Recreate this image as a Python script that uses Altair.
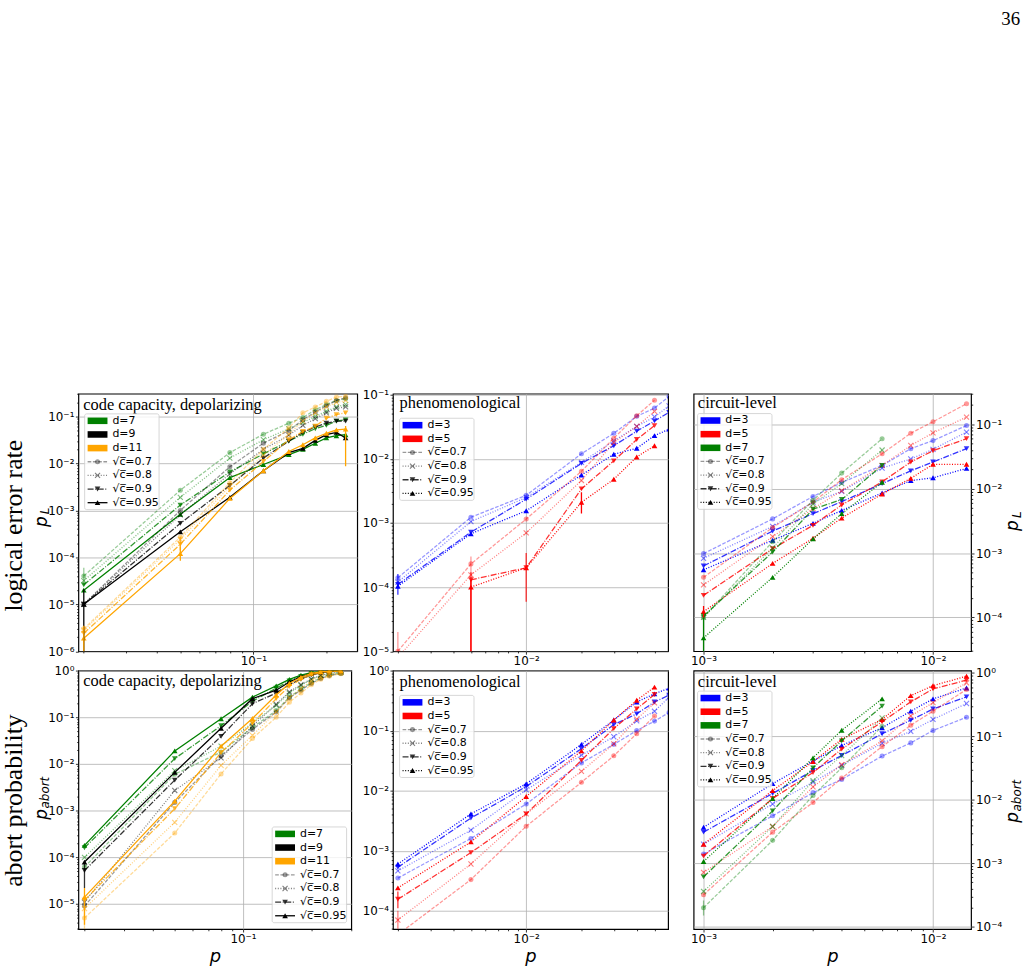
import math

import altair as alt
import pandas as pd

# ---------------------------------------------------------------------------
# sweep points (physical error rate p)
# ---------------------------------------------------------------------------
CC_P = [0.02, 0.05, 0.08, 0.11, 0.14, 0.16, 0.18, 0.20, 0.22, 0.24]
CC_P_ABORT = [0.02, 0.05, 0.08, 0.11, 0.14, 0.16, 0.18, 0.20, 0.22, 0.24, 0.27]
PH_P = [0.002, 0.005, 0.01, 0.02, 0.03, 0.04, 0.05, 0.06]
CL_P = [0.001, 0.002, 0.003, 0.004, 0.006, 0.008, 0.01, 0.014]

SQRT_C = [0.7, 0.8, 0.9, 0.95]

# ---------------------------------------------------------------------------
# code capacity, depolarizing noise: logical error rate p_L
# ---------------------------------------------------------------------------
CC_PL_D7 = {
    0.7: [4.0e-5, 2.7e-3, 1.7e-2, 4.2e-2, 7.2e-2, 9.5e-2, 1.4e-1, 1.8e-1, 2.2e-1, 2.4e-1],
    0.8: [3.2e-5, 1.9e-3, 1.3e-2, 3.2e-2, 5.5e-2, 7.5e-2, 1.0e-1, 1.3e-1, 1.6e-1, 1.8e-1],
    0.9: [2.6e-5, 1.3e-3, 6.6e-3, 1.6e-2, 3.0e-2, 4.2e-2, 5.5e-2, 6.5e-2, 8.0e-2, 8.5e-2],
    0.95: [2.0e-5, 8.3e-4, 5.0e-3, 9.5e-3, 1.55e-2, 2.0e-2, 2.7e-2, 3.5e-2, 3.9e-2, 4.1e-2],
}
CC_PL_D9 = {
    0.7: [1.0e-5, 1.0e-3, 8.5e-3, 2.7e-2, 5.0e-2, 8.5e-2, 1.25e-1, 1.7e-1, 2.2e-1, 2.5e-1],
    0.8: [1.0e-5, 8.0e-4, 6.0e-3, 2.0e-2, 4.0e-2, 6.5e-2, 9.0e-2, 1.2e-1, 1.5e-1, 1.6e-1],
    0.9: [1.0e-5, 5.3e-4, 3.4e-3, 1.3e-2, 3.0e-2, 4.6e-2, 6.0e-2, 7.2e-2, 8.0e-2, 8.0e-2],
    0.95: [1.0e-5, 3.5e-4, 1.9e-3, 7.0e-3, 1.7e-2, 2.1e-2, 3.1e-2, 4.1e-2, 4.6e-2, 3.5e-2],
}
CC_PL_D11 = {
    0.7: [3.0e-6, 2.7e-4, 3.9e-3, 2.0e-2, 5.7e-2, 1.2e-1, 1.6e-1, 2.1e-1, 2.6e-1, 2.7e-1],
    0.8: [2.8e-6, 2.4e-4, 3.3e-3, 1.5e-2, 4.2e-2, 8.0e-2, 1.2e-1, 1.6e-1, 2.0e-1, 2.2e-1],
    0.9: [2.4e-6, 1.9e-4, 2.7e-3, 1.1e-2, 3.2e-2, 4.8e-2, 6.2e-2, 9.2e-2, 1.1e-1, 1.2e-1],
    0.95: [1.9e-6, 1.2e-4, 1.8e-3, 7.0e-3, 1.8e-2, 2.5e-2, 3.5e-2, 4.4e-2, 5.2e-2, 5.4e-2],
}
# (d, sqrt(c), p, low, high)
CC_PL_ERR = [
    ("7", 0.7, 0.02, 2.5e-5, 6.0e-5),
    ("9", 0.95, 0.02, 1.0e-7, 2.1e-5),
    ("11", 0.95, 0.02, 1.0e-7, 3.5e-6),
    ("11", 0.9, 0.05, 1.4e-4, 2.7e-4),
    ("11", 0.95, 0.05, 8.5e-5, 1.7e-4),
    ("11", 0.95, 0.24, 8.7e-3, 6.3e-2),
]

# ---------------------------------------------------------------------------
# code capacity, depolarizing noise: abort probability
# ---------------------------------------------------------------------------
CC_PA_D7 = {
    0.7: [6.2e-5, 6.0e-3, 1.8e-2, 6.0e-2, 1.4e-1, 2.7e-1, 4.0e-1, 5.5e-1, 7.0e-1, 8.0e-1, 8.8e-1],
    0.8: [1.0e-4, 7.2e-3, 2.4e-2, 7.5e-2, 1.8e-1, 3.3e-1, 4.8e-1, 6.5e-1, 7.8e-1, 8.6e-1, 9.2e-1],
    0.9: [1.6e-4, 1.3e-2, 6.6e-2, 2.2e-1, 4.2e-1, 6.0e-1, 7.5e-1, 8.7e-1, 9.3e-1, 9.6e-1, 9.8e-1],
    0.95: [1.8e-4, 1.9e-2, 9.3e-2, 2.7e-1, 4.7e-1, 6.5e-1, 8.0e-1, 9.0e-1, 9.5e-1, 9.7e-1, 9.9e-1],
}
CC_PA_D9 = {
    0.7: [9.0e-6, 1.5e-3, 1.5e-2, 5.5e-2, 1.3e-1, 2.6e-1, 3.8e-1, 5.3e-1, 6.8e-1, 7.8e-1, 8.7e-1],
    0.8: [1.1e-5, 2.7e-3, 1.35e-2, 6.5e-2, 1.9e-1, 3.5e-1, 5.0e-1, 6.6e-1, 7.9e-1, 8.7e-1, 9.3e-1],
    0.9: [5.2e-5, 4.5e-3, 3.9e-2, 1.95e-1, 3.3e-1, 5.0e-1, 6.6e-1, 8.0e-1, 9.0e-1, 9.5e-1, 9.8e-1],
    0.95: [7.9e-5, 6.6e-3, 5.8e-2, 2.5e-1, 3.8e-1, 5.7e-1, 7.4e-1, 8.6e-1, 9.3e-1, 9.7e-1, 9.9e-1],
}
CC_PA_D11 = {
    0.7: [5.0e-6, 3.3e-4, 6.1e-3, 3.5e-2, 1.0e-1, 2.1e-1, 3.3e-1, 5.0e-1, 6.5e-1, 7.6e-1, 8.6e-1],
    0.8: [8.0e-6, 5.6e-4, 9.3e-3, 4.1e-2, 1.3e-1, 2.6e-1, 4.1e-1, 6.0e-1, 7.4e-1, 8.4e-1, 9.1e-1],
    0.9: [1.2e-5, 1.1e-3, 1.75e-2, 7.4e-2, 2.5e-1, 4.6e-1, 6.5e-1, 8.2e-1, 9.1e-1, 9.5e-1, 9.8e-1],
    0.95: [1.4e-5, 1.6e-3, 2.4e-2, 9.4e-2, 3.0e-1, 5.3e-1, 7.2e-1, 8.7e-1, 9.4e-1, 9.7e-1, 9.9e-1],
}
CC_PA_ERR = [
    ("9", 0.9, 0.02, 2.2e-5, 8.0e-5),
    ("11", 0.95, 0.02, 3.6e-6, 2.2e-5),
    ("11", 0.7, 0.02, 1.0e-7, 9.0e-6),
]

# ---------------------------------------------------------------------------
# phenomenological noise
# ---------------------------------------------------------------------------
PH_PL_D3 = {
    0.7: [1.4e-4, 1.23e-3, 2.7e-3, 1.2e-2, 2.5e-2, 4.6e-2, 6.2e-2, 9.4e-2],
    0.8: [1.2e-4, 1.05e-3, 2.5e-3, 8.8e-3, 1.9e-2, 3.2e-2, 4.5e-2, 6.7e-2],
    0.9: [1.1e-4, 7.2e-4, 2.35e-3, 8.5e-3, 1.6e-2, 2.7e-2, 3.9e-2, 5.3e-2],
    0.95: [1.03e-4, 6.8e-4, 1.55e-3, 5.6e-3, 1.18e-2, 1.46e-2, 2.3e-2, 2.9e-2],
}
PH_PL_D5 = {
    0.7: [1.0e-5, 2.3e-4, 1.15e-3, 6.4e-3, 2.1e-2, 4.7e-2, 8.2e-2, None],
    0.8: [8.0e-6, 1.55e-4, 7.0e-4, 4.6e-3, 1.8e-2, 3.2e-2, 5.5e-2, None],
    0.9: [None, 1.3e-4, 2.0e-4, 3.4e-3, 9.3e-3, 2.0e-2, 3.3e-2, None],
    0.95: [None, 1.0e-4, 2.0e-4, 2.1e-3, 4.8e-3, 1.07e-2, 1.6e-2, None],
}
PH_PL_ERR = [
    ("3", 0.9, 0.002, 7.6e-5, 1.6e-4),
    ("5", 0.7, 0.002, 1.0e-7, 2.0e-5),
    ("5", 0.9, 0.005, 1.0e-7, 1.7e-4),
    ("5", 0.95, 0.005, 1.0e-7, 1.3e-4),
    ("5", 0.9, 0.01, 5.9e-5, 3.4e-4),
    ("5", 0.95, 0.02, 1.4e-3, 3.0e-3),
    ("5", 0.7, 0.005, 1.6e-4, 3.0e-4),
]
PH_PA_D3 = {
    0.7: [3.5e-4, 1.6e-3, 6.0e-3, 2.9e-2, 5.9e-2, 1.0e-1, 1.44e-1, 2.0e-1],
    0.8: [4.6e-4, 2.2e-3, 1.03e-2, 3.9e-2, 7.9e-2, 1.45e-1, 2.1e-1, 3.6e-1],
    0.9: [5.3e-4, 3.5e-3, 1.17e-2, 5.0e-2, 1.26e-1, 1.9e-1, 3.0e-1, 3.9e-1],
    0.95: [6.0e-4, 4.1e-3, 1.3e-2, 5.9e-2, 1.5e-1, 3.0e-1, 4.1e-1, 5.1e-1],
}
PH_PA_D5 = {
    0.7: [4.0e-5, 3.3e-4, 2.55e-3, 1.38e-2, 3.8e-2, 8.9e-2, 1.75e-1, None],
    0.8: [7.0e-5, 6.0e-4, 4.1e-3, 2.1e-2, 6.0e-2, 1.55e-1, 2.9e-1, None],
    0.9: [1.55e-4, 9.3e-4, 4.1e-3, 3.2e-2, 1.08e-1, 2.3e-1, 4.0e-1, None],
    0.95: [2.4e-4, 1.4e-3, 8.0e-3, 4.6e-2, 1.5e-1, 3.2e-1, 5.3e-1, None],
}
PH_PA_ERR = [
    ("5", 0.9, 0.002, 1.1e-4, 2.1e-4),
    ("5", 0.8, 0.002, 5.0e-5, 1.0e-4),
]

# ---------------------------------------------------------------------------
# circuit-level noise
# ---------------------------------------------------------------------------
CL_PL_D3 = {
    0.7: [9.8e-4, 3.4e-3, 7.6e-3, 1.25e-2, 2.3e-2, 4.2e-2, 5.6e-2, 9.6e-2],
    0.8: [8.3e-4, 2.6e-3, 6.2e-3, 9.1e-3, 2.1e-2, 2.9e-2, 4.1e-2, 7.6e-2],
    0.9: [6.3e-4, 2.2e-3, 4.1e-3, 6.3e-3, 1.2e-2, 1.9e-2, 2.6e-2, 4.2e-2],
    0.95: [5.5e-4, 1.58e-3, 2.9e-3, 4.6e-3, 8.6e-3, 1.34e-2, 1.48e-2, 2.07e-2],
}
CL_PL_D5 = {
    0.7: [4.2e-4, 2.5e-3, 6.2e-3, 1.38e-2, 3.5e-2, 7.3e-2, 1.1e-1, 2.1e-1],
    0.8: [3.2e-4, 1.8e-3, 4.9e-3, 9.3e-3, 2.3e-2, 4.7e-2, 7.4e-2, 1.3e-1],
    0.9: [2.2e-4, 1.17e-3, 2.7e-3, 5.6e-3, 1.28e-2, 2.6e-2, 3.9e-2, 6.0e-2],
    0.95: [1.23e-4, 6.9e-4, 1.7e-3, 3.5e-3, 8.3e-3, 1.45e-2, 2.4e-2, 2.4e-2],
}
CL_PL_D7 = {
    0.7: [1.0e-4, 1.5e-3, 6.6e-3, 1.75e-2, 6.0e-2, None, None, None],
    0.8: [1.0e-4, 1.2e-3, 5.8e-3, 1.2e-2, 4.0e-2, None, None, None],
    0.9: [1.05e-4, 1.04e-3, 4.8e-3, 6.8e-3, 2.3e-2, None, None, None],
    0.95: [4.8e-5, 4.2e-4, 1.66e-3, 4.1e-3, 1.26e-2, None, None, None],
}
CL_PL_ERR = [
    ("7", 0.95, 0.001, 1.0e-7, 1.1e-4),
    ("5", 0.95, 0.001, 1.0e-4, 1.5e-4),
]
CL_PA_D3 = {
    0.7: [1.4e-3, 5.6e-3, 1.3e-2, 2.1e-2, 4.9e-2, 7.9e-2, 1.24e-1, 2.0e-1],
    0.8: [2.0e-3, 8.6e-3, 1.9e-2, 3.5e-2, 7.8e-2, 1.2e-1, 1.85e-1, 3.3e-1],
    0.9: [3.1e-3, 1.26e-2, 2.9e-2, 5.0e-2, 1.1e-1, 1.8e-1, 2.7e-1, 4.2e-1],
    0.95: [3.7e-3, 1.8e-2, 4.1e-2, 7.2e-2, 1.37e-1, 2.5e-1, 3.9e-1, 5.8e-1],
}
CL_PA_D5 = {
    0.7: [3.2e-4, 3.1e-3, 9.1e-3, 2.2e-2, 6.9e-2, 1.5e-1, 2.5e-1, 5.5e-1],
    0.8: [7.2e-4, 3.8e-3, 1.6e-2, 3.6e-2, 8.5e-2, 2.1e-1, 3.4e-1, 7.0e-1],
    0.9: [1.3e-3, 1.05e-2, 2.7e-2, 6.3e-2, 1.7e-1, 3.5e-1, 5.6e-1, 7.7e-1],
    0.95: [2.0e-3, 1.4e-2, 4.0e-2, 9.0e-2, 1.85e-1, 4.4e-1, 6.3e-1, 8.9e-1],
}
CL_PA_D7 = {
    0.7: [2.0e-4, 2.3e-3, 1.17e-2, 3.2e-2, 1.45e-1, None, None, None],
    0.8: [3.6e-4, 3.8e-3, 2.0e-2, 5.0e-2, 1.95e-1, None, None, None],
    0.9: [6.1e-4, 6.7e-3, 3.2e-2, 8.5e-2, 3.0e-1, None, None, None],
    0.95: [1.07e-3, 1.05e-2, 4.6e-2, 1.25e-1, 3.9e-1, None, None, None],
}
CL_PA_ERR = [
    ("7", 0.7, 0.001, 1.5e-4, 2.6e-4),
]

# ---------------------------------------------------------------------------
# styling
# ---------------------------------------------------------------------------
COLORS = {"3": "#0000ff", "5": "#ff0000", "7": "#008000", "9": "#000000", "11": "#ffa500"}
ALPHA = {0.7: 0.4, 0.8: 0.5, 0.9: 0.8, 0.95: 1.0}
DASHED = [3.7, 1.6]
DOTTED = [1, 1.65]
DASHDOT = [6, 1.6, 1, 1.6]
CC_STYLE = {0.7: DASHED, 0.8: DOTTED, 0.9: DASHDOT, 0.95: None}
NOISE_STYLE = {0.7: DASHED, 0.8: DOTTED, 0.9: DASHDOT, 0.95: DOTTED}
X_PATH = "M-1,-1L1,1M-1,1L1,-1"
MARKERS = {
    0.7: dict(shape="circle", filled=True, size=26),
    0.8: dict(shape=X_PATH, filled=False, size=26, strokeWidth=1.1),
    0.9: dict(shape="triangle-down", filled=True, size=32),
    0.95: dict(shape="triangle-up", filled=True, size=32),
}
LINE_W = 1.3
SANS = "DejaVu Sans"
SERIF = "Liberation Serif"
SUP = str.maketrans("-0123456789", "\u207b\u2070\u00b9\u00b2\u00b3\u2074\u2075\u2076\u2077\u2078\u2079")
LOG10 = "log(datum.value)/LN10"
MAJOR = f"abs({LOG10} - round({LOG10})) < 0.001"
STEP = 13.75


def log_ticks(lo, hi):
    vals = []
    for k in range(math.floor(math.log10(lo)), math.ceil(math.log10(hi)) + 1):
        for m in range(1, 10):
            v = float(f"{m * 10.0 ** k:.12g}")
            if lo * (1 - 1e-9) <= v <= hi * (1 + 1e-9):
                vals.append(v)
    return vals


def log_axis(dom, orient, title=None):
    lo, hi = dom
    decades = range(math.floor(math.log10(lo)), math.ceil(math.log10(hi)) + 1)
    expr = " : ".join(
        f"abs({LOG10} - ({k})) < 0.001 ? '10{str(k).translate(SUP)}'" for k in decades
    ) + " : ''"
    kw = dict(
        values=log_ticks(lo, hi), labelExpr=expr, orient=orient,
        grid=True, gridColor="#b0b0b0", gridWidth=0.8,
        gridOpacity={"condition": {"test": MAJOR, "value": 1}, "value": 0},
        tickSize={"condition": {"test": MAJOR, "value": 3}, "value": 1.7},
        tickColor="black", tickWidth=0.8, domain=False,
        labelFont=SANS, labelFontSize=12, labelColor="black", labelPadding=1.5,
        labelOverlap=False, labelFlush=False,
    )
    if title:
        kw.update(title=title, titleFont=SANS, titleFontStyle="italic",
                  titleFontWeight="normal", titleFontSize=18, titleColor="black",
                  titlePadding=3)
    else:
        kw["title"] = None
    return alt.Axis(**kw)


def one():
    return alt.Chart(pd.DataFrame({"k": [0]}))


def text(label, x, y, size, font=SANS, align="left", angle=0, style="normal",
         baseline="middle"):
    kw = dict(text=label, font=font, fontSize=size, align=align, baseline=baseline,
              color="black", fontStyle=style)
    if angle:
        kw["angle"] = angle
    return one().mark_text(**kw).encode(x=alt.value(x), y=alt.value(y))


def series_df(p, values):
    rows = [(x, v) for x, v in zip(p, values) if v is not None]
    return pd.DataFrame(rows, columns=["p", "v"])


def legend(left, top, patches, style):
    n = len(patches) + len(SQRT_C)
    layers = [
        one().mark_rect(fill="white", fillOpacity=0.8, stroke="#cccccc",
                        strokeWidth=0.8, cornerRadius=2).encode(
            x=alt.value(left), x2=alt.value(left + 75),
            y=alt.value(top), y2=alt.value(top + (n - 1) * STEP + 14))
    ]
    for i, d in enumerate(patches):
        yc = top + 7 + i * STEP
        layers.append(one().mark_rect(color=COLORS[d]).encode(
            x=alt.value(left + 3), x2=alt.value(left + 23),
            y=alt.value(yc - 3.3), y2=alt.value(yc + 3.3)))
        layers.append(text(f"d={d}", left + 28, yc, 11))
    for j, c in enumerate(SQRT_C):
        yc = top + 7 + (len(patches) + j) * STEP
        rule_kw = dict(color="black", opacity=ALPHA[c], strokeWidth=LINE_W)
        if style[c]:
            rule_kw["strokeDash"] = style[c]
        layers.append(one().mark_rule(**rule_kw).encode(
            x=alt.value(left + 3), x2=alt.value(left + 23), y=alt.value(yc)))
        layers.append(one().mark_point(color="black", opacity=ALPHA[c], **MARKERS[c]).encode(
            x=alt.value(left + 13), y=alt.value(yc)))
        layers.append(text(f"\u221ac\u0305={c}", left + 28, yc, 11))
    return layers


def panel(cfg):
    width, height = cfg["size"]
    xs = alt.Scale(type="log", domain=cfg["xdom"], nice=False)
    ys = alt.Scale(type="log", domain=cfg["ydom"], nice=False)
    xax = log_axis(cfg["xdom"], "bottom", cfg.get("xtitle"))
    yax = log_axis(cfg["ydom"], cfg["yorient"])
    enc_x = alt.X("p:Q", scale=xs, axis=xax)
    enc_y = alt.Y("v:Q", scale=ys, axis=yax)
    layers = []
    for d, table, pvals in cfg["series"]:
        for c in SQRT_C:
            df = series_df(pvals, table[c])
            line_kw = dict(color=COLORS[d], opacity=ALPHA[c], strokeWidth=LINE_W, clip=True)
            if cfg["style"][c]:
                line_kw["strokeDash"] = cfg["style"][c]
            layers.append(alt.Chart(df).mark_line(**line_kw).encode(x=enc_x, y=enc_y))
            layers.append(alt.Chart(df).mark_point(
                color=COLORS[d], opacity=ALPHA[c], clip=True, **MARKERS[c]
            ).encode(x=enc_x, y=enc_y))
    err = pd.DataFrame(cfg["errors"], columns=["d", "c", "p", "lo", "hi"])
    err["colour"] = err["d"].map(COLORS)
    err["alpha"] = err["c"].map(ALPHA)
    layers.append(alt.Chart(err).mark_rule(strokeWidth=LINE_W, clip=True).encode(
        x=enc_x, y=alt.Y("lo:Q", scale=ys, axis=yax), y2="hi:Q",
        color=alt.Color("colour:N", scale=None),
        opacity=alt.Opacity("alpha:Q", scale=None)))
    # panel caption
    tx, ty = cfg["title_at"]
    layers.append(text(cfg["title"], tx, ty, 16.5, font=SERIF))
    layers += legend(*cfg["legend_at"], cfg["patches"], cfg["style"])
    layers += cfg.get("extra", [])
    return alt.layer(*layers).properties(width=width, height=height)


def ylabel(x, y, sub, sub_dx, sub_dy, big=None, big_x=None, big_y=None):
    marks = [
        text("p", x, y, 17, angle=270, align="center", style="italic"),
        text(sub, x + sub_dx, y + sub_dy, 12, angle=270, align="center", style="italic"),
    ]
    if big:
        marks.append(text(big, big_x, big_y, 26, font=SERIF, angle=270, align="center"))
    return marks


TOP_H, BOT_H = 259.5, 260.5
CC_X = [0.019, 0.268]
CC_XA = [0.0188, 0.30]
PH_X = [0.00188, 0.0593]
CL_X = [0.000905, 0.01465]

tl = panel(dict(
    size=(281, TOP_H), xdom=CC_X, ydom=[1e-6, 0.306], yorient="left",
    series=[("7", CC_PL_D7, CC_P), ("9", CC_PL_D9, CC_P), ("11", CC_PL_D11, CC_P)],
    style=CC_STYLE, errors=CC_PL_ERR, title="code capacity, depolarizing",
    title_at=(5, 11), legend_at=(6.3, 20.3), patches=["7", "9", "11"],
    extra=ylabel(-37, 129, "L", 3.5, -11, "logical error rate", -65, 133),
))
bl = panel(dict(
    size=(275, BOT_H), xdom=CC_XA, ydom=[2.9e-6, 1.0], yorient="left", xtitle="p",
    series=[("7", CC_PA_D7, CC_P_ABORT), ("9", CC_PA_D9, CC_P_ABORT),
            ("11", CC_PA_D11, CC_P_ABORT)],
    style=CC_STYLE, errors=CC_PA_ERR, title="code capacity, depolarizing",
    title_at=(5, 10.5), legend_at=(195.3, 157.6), patches=["7", "9", "11"],
    extra=ylabel(-37, 145, "abort", 3.5, -22, "abort probability", -65, 131),
))

GAP_RIGHT = 17
spacer = [one().mark_rule(color="white", strokeWidth=0.5).encode(
    x=alt.value(277.3 + 1), x2=alt.value(277.3 + GAP_RIGHT), y=alt.value(130))]

tm = panel(dict(
    size=(277.3, TOP_H), xdom=PH_X, ydom=[1e-5, 0.1036], yorient="left",
    series=[("3", PH_PL_D3, PH_P), ("5", PH_PL_D5, PH_P)],
    style=NOISE_STYLE, errors=PH_PL_ERR, title="phenomenological",
    title_at=(6.7, 9.5), legend_at=(6.7, 24.7), patches=["3", "5"], extra=spacer,
))
bm = panel(dict(
    size=(277.3, BOT_H), xdom=PH_X, ydom=[4.95e-5, 1.0], yorient="left", xtitle="p",
    series=[("3", PH_PA_D3, PH_P), ("5", PH_PA_D5, PH_P)],
    style=NOISE_STYLE, errors=PH_PA_ERR, title="phenomenological",
    title_at=(6.7, 11.5), legend_at=(6.7, 25), patches=["3", "5"],
))
tr = panel(dict(
    size=(279.6, TOP_H), xdom=CL_X, ydom=[2.98e-5, 0.30], yorient="right",
    series=[("3", CL_PL_D3, CL_P), ("5", CL_PL_D5, CL_P), ("7", CL_PL_D7, CL_P)],
    style=NOISE_STYLE, errors=CL_PL_ERR, title="circuit-level",
    title_at=(4.3, 9.5), legend_at=(4, 20), patches=["3", "5", "7"],
    extra=ylabel(322.3, 133, "L", 3.5, -11)
    + [text("36", 329, -372, 19, font=SERIF, align="right", baseline="alphabetic")],
))
br = panel(dict(
    size=(279.6, BOT_H), xdom=CL_X, ydom=[9.2e-5, 1.09], yorient="right", xtitle="p",
    series=[("3", CL_PA_D3, CL_P), ("5", CL_PA_D5, CL_P), ("7", CL_PA_D7, CL_P)],
    style=NOISE_STYLE, errors=CL_PA_ERR, title="circuit-level",
    title_at=(4.3, 11.5), legend_at=(4, 20.7), patches=["3", "5", "7"],
    extra=ylabel(322.3, 148, "abort", 3.5, -22),
))

col1 = alt.vconcat(tl, bl, spacing=19, bounds="flush")
col2 = alt.vconcat(tm, bm, spacing=19, bounds="flush")
col3 = alt.vconcat(tr, br, spacing=19, bounds="flush")

chart = (
    alt.hconcat(col1, col2, col3, spacing=3)
    .configure_view(stroke="black", strokeWidth=1.2)
    .properties(background="white",
                padding={"left": 0, "top": 5, "right": 5, "bottom": 5})
)

chart.save("out.html", embed_options={"renderer": "svg", "actions": False})
